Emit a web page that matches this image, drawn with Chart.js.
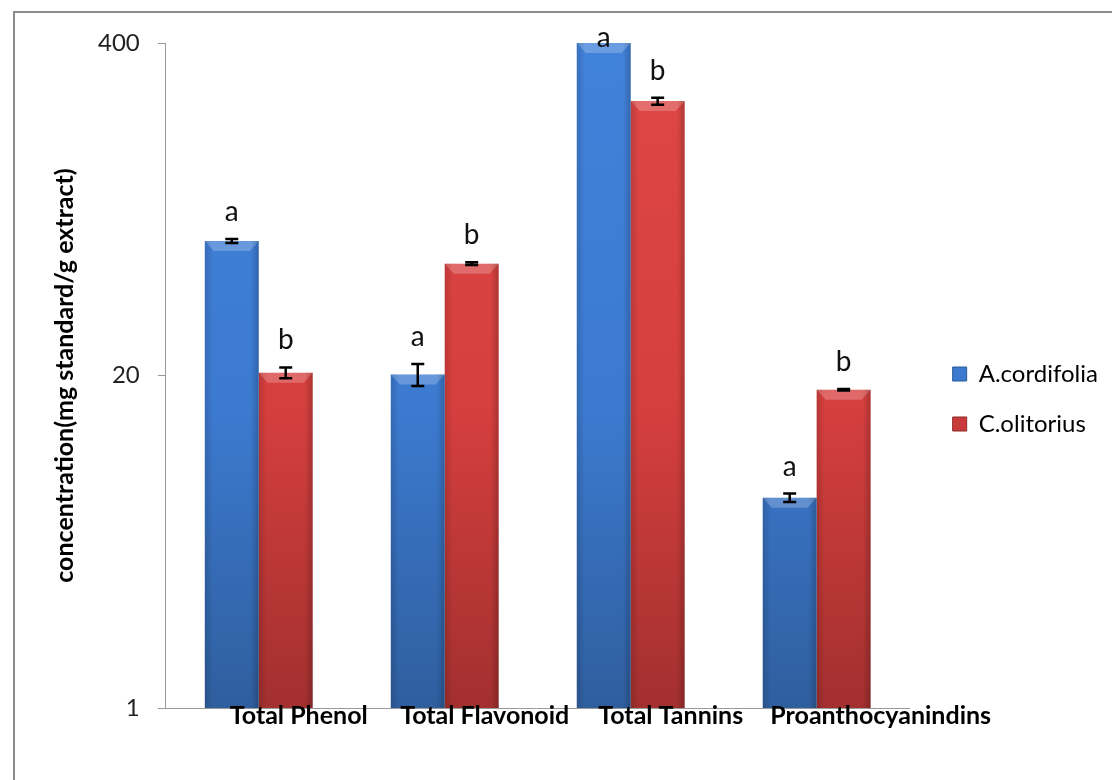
<!DOCTYPE html>
<html><head><meta charset="utf-8">
<script src="https://cdn.jsdelivr.net/npm/chart.js@4.4.1/dist/chart.umd.min.js"></script>
<style>
html,body{margin:0;padding:0;background:#fff;overflow:hidden;}
#wrap{position:relative;width:1112px;height:780px;overflow:hidden;}
#frame{position:absolute;left:13px;top:11px;width:1200px;height:900px;border:2px solid #8c8c8c;box-sizing:border-box;}
canvas{position:absolute;left:0;top:0;}
</style></head><body>
<div id="wrap"><div id="frame"></div><canvas id="c" width="1112" height="780"></canvas></div>
<script>
const categories = ['Total Phenol', 'Total Flavonoid', 'Total Tannins', 'Proanthocyanindins'];
const seriesNames = ['A.cordifolia', 'C.olitorius'];
const valuesA = [67.2, 20.2, 402, 6.65];
const valuesC = [20.5, 54.8, 237, 17.6];
const errorsA = [1.2, 2.0, 0, 0.25];
const errorsC = [1.0, 0.7, 7.5, 0.12];
const lettersA = ['a', 'a', 'a', 'a'];
const lettersC = ['b', 'b', 'b', 'b'];
const yTicks = [1, 20, 400];
const yTitle = 'concentration(mg standard/g extract)';

const FONT = "Lato, 'Open Sans', sans-serif";
const LAST = categories.length - 1;

function makeGrad(chart, stops) {
  const a = chart.chartArea;
  if (!a) return stops[0][1];
  const g = chart.ctx.createLinearGradient(0, a.top, 0, a.bottom);
  stops.forEach(s => g.addColorStop(s[0], s[1]));
  return g;
}
const blueStops = [[0, '#4182DA'], [0.55, '#3C7AD0'], [1, '#2F5E9E']];
const redStops = [[0, '#DE4745'], [0.55, '#D53F3E'], [1, '#A2302F']];

const barDeco = {
  id: 'barDeco',
  afterDatasetsDraw(chart) {
    const ctx = chart.ctx;
    const y = chart.scales.y;
    const area = chart.chartArea;
    const errs = [errorsA, errorsC];
    const vals = [valuesA, valuesC];
    const letters = [lettersA, lettersC];
    ctx.save();
    chart.data.datasets.forEach((ds, di) => {
      const meta = chart.getDatasetMeta(di);
      meta.data.forEach(bar => {
        const p = bar.getProps(['x', 'y', 'width', 'base'], true);
        const l = p.x - p.width / 2, r = p.x + p.width / 2, t = Math.max(p.y, area.top);
        ctx.save();
        ctx.beginPath(); ctx.rect(area.left, area.top, area.width, area.height); ctx.clip();
        ctx.fillStyle = 'rgba(255,255,255,0.22)';
        ctx.beginPath();
        ctx.moveTo(l, t); ctx.lineTo(r, t); ctx.lineTo(r - 9, t + 10); ctx.lineTo(l + 9, t + 10); ctx.closePath(); ctx.fill();
        let g = ctx.createLinearGradient(l, 0, l + 8, 0);
        g.addColorStop(0, 'rgba(0,0,0,0.14)'); g.addColorStop(1, 'rgba(0,0,0,0)');
        ctx.fillStyle = g; ctx.fillRect(l, t, 8, p.base - t);
        g = ctx.createLinearGradient(r - 8, 0, r, 0);
        g.addColorStop(0, 'rgba(0,0,0,0)'); g.addColorStop(1, 'rgba(0,0,0,0.2)');
        ctx.fillStyle = g; ctx.fillRect(r - 8, t, 8, p.base - t);
        ctx.restore();
      });
    });
    chart.data.datasets.forEach((ds, di) => {
      const meta = chart.getDatasetMeta(di);
      meta.data.forEach((bar, i) => {
        const v = vals[di][i], e = errs[di][i];
        let top = y.getPixelForValue(v);
        if (e > 0) {
          const yt = y.getPixelForValue(v + e), yb = y.getPixelForValue(v - e);
          ctx.strokeStyle = '#000'; ctx.lineWidth = 2.5;
          ctx.beginPath();
          ctx.moveTo(bar.x, yt); ctx.lineTo(bar.x, yb);
          ctx.moveTo(bar.x - 6.5, yt); ctx.lineTo(bar.x + 6.5, yt);
          ctx.moveTo(bar.x - 6.5, yb); ctx.lineTo(bar.x + 6.5, yb);
          ctx.stroke();
          top = yt;
        }
        const base = Math.max(top - 18, area.top + 4);
        ctx.fillStyle = '#111';
        ctx.font = '28px ' + FONT;
        ctx.textAlign = 'center'; ctx.textBaseline = 'alphabetic';
        ctx.fillText(letters[di][i], bar.x, base);
      });
    });
    ctx.restore();
  }
};

const xTickFont = { family: FONT, size: 25, weight: 'bold' };
function labelAxis(offset, pick) {
  return {
    type: 'category',
    position: { y: 1 },
    labels: categories,
    offset: true,
    grid: { display: false },
    border: { display: false },
    ticks: {
      z: 1,
      font: xTickFont,
      color: '#000',
      padding: -15,
      labelOffset: offset,
      maxRotation: 0, autoSkip: false,
      callback: function (v, i) { return pick(i) ? categories[i] : ''; }
    }
  };
}

function build() {
  new Chart(document.getElementById('c'), {
    type: 'bar',
    data: {
      labels: categories,
      datasets: [
        { label: seriesNames[0], data: valuesA, backgroundColor: c => makeGrad(c.chart, blueStops), borderWidth: 0 },
        { label: seriesNames[1], data: valuesC, backgroundColor: c => makeGrad(c.chart, redStops), borderWidth: 0 }
      ]
    },
    options: {
      responsive: false,
      animation: false,
      devicePixelRatio: 1,
      categoryPercentage: 0.58,
      barPercentage: 1.0,
      layout: { padding: { left: 50, top: 43, right: 10, bottom: 25 } },
      plugins: {
        tooltip: { enabled: false },
        legend: {
          position: 'right',
          align: 'center',
          labels: {
            font: { family: FONT, size: 24 },
            color: '#222',
            boxWidth: 14, boxHeight: 14,
            padding: 26,
            generateLabels: chart => chart.data.datasets.map((ds, i) => ({
              text: ds.label,
              fillStyle: i === 0 ? '#3C7AD0' : '#C93B3A',
              strokeStyle: i === 0 ? '#2A5A9A' : '#8E2A29',
              lineWidth: 1,
              datasetIndex: i, hidden: false
            }))
          }
        }
      },
      scales: {
        x: {
          type: 'category',
          grid: { display: false },
          border: { display: true, color: '#9a9a9a', width: 1 },
          ticks: { display: false },
          afterFit: s => { s.height = 47; }
        },
        xLabels: labelAxis(40, i => i !== LAST),
        xLabelsLast: labelAxis(64, i => i === LAST),
        y: {
          type: 'logarithmic',
          min: 1, max: 400,
          afterBuildTicks: s => { s.ticks = yTicks.map(v => ({ value: v })); },
          grid: { drawOnChartArea: false, drawTicks: true, tickLength: 8, color: '#9a9a9a' },
          border: { display: true, color: '#9a9a9a', width: 1 },
          ticks: {
            font: { family: FONT, size: 24 },
            color: '#222',
            padding: 18,
            callback: v => String(v)
          },
          title: {
            display: true,
            text: yTitle,
            font: { family: FONT, size: 25, weight: 'bold' },
            color: '#000',
            padding: { top: 0, bottom: 0 }
          }
        },
        yPad: {
          type: 'linear', position: 'right', display: true,
          grid: { display: false }, border: { display: false }, ticks: { display: false },
          afterFit: s => { s.width = 17; }
        }
      }
    },
    plugins: [barDeco]
  });
}
if (document.fonts && document.fonts.ready) { document.fonts.ready.then(build); } else { build(); }
</script>
</body></html>
